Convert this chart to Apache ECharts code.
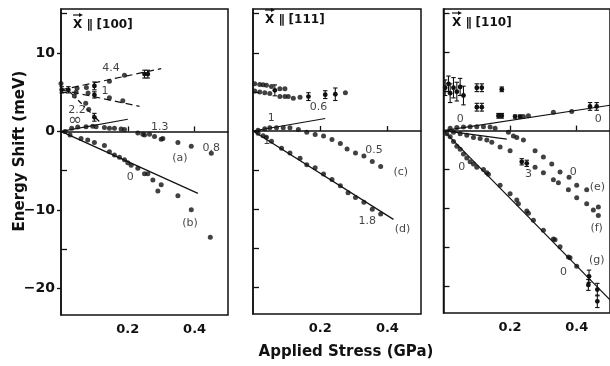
<!DOCTYPE html>
<html>
<head>
<meta charset="utf-8">
<script src="https://cdn.jsdelivr.net/npm/echarts@6/dist/echarts.min.js"></script>
<style>
  html, body { margin: 0; padding: 0; background: #fff; }
  #chart { width: 610px; height: 366px; }
</style>
</head>
<body>
<div id="chart"></div>
<script>
// ---- Stress-induced energy shifts, three stress directions ----
// x: applied stress (GPa), y: energy shift (meV)

const xTicks = [0.2, 0.4];
const yMajorTicks = [10, 0, -10, -20];
const yMinorTicks = [15, 5, -5, -15];
const panelTitles = ['[100]', '[111]', '[110]'];

// X || [100]
const s100Upper44 = [[0.0, 6.1], [0.048, 5.5], [0.076, 5.6], [0.145, 6.4], [0.19, 7.15]];
const s100Upper44Err = [[0.002, 5.3, 0.4], [0.022, 5.3, 0.4], [0.10, 5.8, 0.5], [0.25, 7.3, 0.5], [0.26, 7.3, 0.5]];
const s100Upper1 = [[0.045, 5.0], [0.081, 4.9], [0.145, 4.3], [0.185, 3.9]];
const s100Upper1Err = [[0.10, 4.65, 0.4]];
const s100Upper22 = [[0.04, 4.5], [0.074, 3.6], [0.083, 2.8]];
const s100Upper22Err = [[0.10, 1.8, 0.5]];
const s100A = [[0.012, 0], [0.032, 0.4], [0.05, 0.55], [0.075, 0.6], [0.095, 0.65], [0.105, 0.6], [0.13, 0.5], [0.145, 0.4], [0.16, 0.4], [0.18, 0.3], [0.19, 0.25], [0.23, -0.2], [0.245, -0.35], [0.25, -0.45], [0.265, -0.35], [0.28, -0.65], [0.30, -1.0], [0.305, -0.9], [0.35, -1.4], [0.39, -1.9], [0.45, -2.8]];
const s100B = [[0.027, -0.45], [0.06, -0.9], [0.08, -1.1], [0.10, -1.4], [0.13, -1.8], [0.145, -2.6], [0.16, -3.0], [0.175, -3.3], [0.19, -3.6], [0.20, -4.0], [0.21, -4.3], [0.23, -4.7], [0.25, -5.4], [0.26, -5.4], [0.275, -6.2], [0.29, -7.6], [0.30, -6.8], [0.35, -8.2], [0.39, -10.0], [0.447, -13.5]];
const l100_44 = [[0, 5.3], [0.30, 8.0]];
const l100_1 = [[0, 5.3], [0.235, 3.2]];
const l100_22 = [[0.025, 5.1], [0.115, 1.25]];
const l100_inf = [[0, 0], [0.20, 1.55]];
const l100_b = [[0, 0], [0.41, -7.9]];
const t100 = [[0.15, 8.1, '4.4'], [0.132, 5.1, '1'], [0.048, 2.7, '2.2'], [0.296, 0.55, '1.3'], [0.45, -2.1, '0.8'], [0.356, -3.4, '(a)'], [0.207, -5.8, '0'], [0.386, -11.7, '(b)']];
const t100Big = [[0.042, 1.4, '∞']];

// X || [111]
const s111UpperA = [[0.005, 6.05], [0.02, 5.95], [0.03, 5.9], [0.04, 5.85], [0.055, 5.7], [0.08, 5.4], [0.095, 5.4]];
const s111UpperB = [[0.005, 5.1], [0.02, 5.0], [0.035, 4.9], [0.05, 4.8], [0.08, 4.4], [0.095, 4.4], [0.105, 4.4], [0.12, 4.2], [0.14, 4.3], [0.275, 4.9]];
const s111UpperErr = [[0.065, 5.2, 0.7], [0.165, 4.4, 0.5], [0.215, 4.65, 0.5], [0.245, 4.7, 0.8]];
const s111C = [[0.015, 0.1], [0.035, 0.3], [0.05, 0.4], [0.07, 0.4], [0.09, 0.4], [0.11, 0.4], [0.135, 0.2], [0.16, -0.15], [0.185, -0.45], [0.21, -0.65], [0.235, -1.1], [0.26, -1.6], [0.28, -2.3], [0.305, -2.8], [0.33, -3.2], [0.355, -3.9], [0.38, -4.55]];
const s111D = [[0.015, -0.3], [0.03, -0.6], [0.04, -0.8], [0.055, -1.3], [0.085, -2.2], [0.11, -2.8], [0.14, -3.5], [0.16, -4.3], [0.185, -4.7], [0.21, -5.5], [0.235, -6.2], [0.26, -7.0], [0.283, -7.9], [0.305, -8.5], [0.33, -9.1], [0.355, -10.0], [0.38, -10.6]];
const l111_c = [[0, 0], [0.215, 1.6]];
const l111_d = [[0, 0], [0.418, -11.3]];
const t111 = [[0.195, 3.0, '0.6'], [0.054, 1.6, '1'], [0.041, -1.3, '1'], [0.36, -2.4, '0.5'], [0.44, -5.2, '(c)'], [0.34, -11.5, '1.8'], [0.445, -12.6, '(d)']];

// X || [110]
const s110UpperErr = [[0.005, 5.5, 1.0], [0.015, 6.0, 1.0], [0.02, 4.8, 1.2], [0.03, 5.5, 1.3], [0.04, 5.0, 1.2], [0.05, 5.6, 1.1], [0.06, 4.5, 1.2], [0.10, 5.5, 0.5], [0.115, 5.5, 0.5], [0.175, 5.3, 0.3], [0.10, 3.0, 0.5], [0.115, 3.0, 0.5], [0.165, 1.9, 0.3], [0.175, 1.9, 0.3], [0.215, 1.8, 0.2], [0.23, 1.8, 0.2], [0.44, 3.1, 0.5], [0.46, 3.1, 0.5]];
const s110Upper = [[0.24, 1.8], [0.255, 1.9], [0.33, 2.35], [0.385, 2.45]];
const s110E = [[0.02, 0.3], [0.04, 0.4], [0.06, 0.45], [0.08, 0.5], [0.10, 0.5], [0.12, 0.5], [0.14, 0.45], [0.155, 0.3], [0.195, -0.2], [0.21, -0.7], [0.22, -0.9], [0.24, -1.2], [0.275, -2.6], [0.30, -3.4], [0.325, -4.3], [0.35, -5.3], [0.377, -6.0], [0.40, -7.0], [0.43, -7.6]];
const s110F = [[0.03, -0.2], [0.05, -0.4], [0.07, -0.6], [0.09, -0.9], [0.11, -1.0], [0.13, -1.2], [0.145, -1.5], [0.17, -2.1], [0.20, -2.6], [0.275, -4.7], [0.30, -5.4], [0.33, -6.3], [0.345, -6.7], [0.375, -7.6], [0.40, -8.6], [0.43, -9.4], [0.45, -10.2], [0.465, -9.8], [0.465, -10.9]];
const s110FErr = [[0.235, -4.0, 0.4], [0.25, -4.2, 0.4]];
const s110G = [[0.01, -0.4], [0.02, -0.8], [0.03, -1.4], [0.04, -2.0], [0.05, -2.4], [0.06, -3.0], [0.07, -3.5], [0.08, -4.0], [0.09, -4.3], [0.10, -4.7], [0.12, -5.0], [0.13, -5.4], [0.135, -5.6], [0.17, -7.0], [0.20, -8.1], [0.22, -8.9], [0.225, -9.4], [0.25, -10.3], [0.255, -10.6], [0.27, -11.5], [0.30, -12.8], [0.33, -13.9], [0.335, -14.0], [0.35, -14.9], [0.375, -16.2], [0.38, -16.3], [0.40, -17.4]];
const s110GErr = [[0.437, -18.7, 0.8], [0.435, -19.8, 0.7], [0.462, -20.4, 0.8], [0.462, -21.9, 0.8]];
const l110_up = [[0, 0], [0.5, 3.25]];
const l110_short = [[0, 0], [0.19, -1.1]];
const l110_g = [[0, 0], [0.5, -21.7]];
const t110 = [[0.05, 1.45, '0'], [0.465, 1.45, '0'], [0.055, -4.65, '0'], [0.255, -5.55, '3'], [0.39, -5.3, '0'], [0.462, -7.3, '(e)'], [0.46, -12.5, '(f)'], [0.46, -16.6, '(g)'], [0.36, -18.1, '0']];

const INK = '#111';
const FONT = 'DejaVu Sans';

const grids = [
  { left: 61, top: 9, width: 167, height: 306 },
  { left: 253, top: 9, width: 168, height: 305 },
  { left: 443.5, top: 9, width: 167, height: 304 }
];

const fmtY = v => (v < 0 ? '\u2212' + Math.abs(v) : String(v));

const xAxes = grids.map((g, i) => ({
  gridIndex: i, type: 'value', min: 0, max: 0.5,
  axisLine: { show: true, lineStyle: { color: INK, width: 1.5 } },
  axisTick: { show: true, inside: true, length: 5, customValues: xTicks, lineStyle: { color: INK, width: 1.3 } },
  axisLabel: { show: true, customValues: xTicks, color: INK, fontFamily: FONT, fontWeight: 'bold', fontSize: 13, margin: 8, formatter: v => v.toFixed(1) },
  splitLine: { show: false }
}));

const yAxes = [];
grids.forEach((g, i) => {
  yAxes.push({
    gridIndex: i, type: 'value', min: -23.4, max: 15.6,
    axisLine: { show: true, lineStyle: { color: INK, width: 1.5 } },
    axisTick: { show: true, inside: i > 0, length: i === 0 ? 4 : 6, customValues: yMajorTicks, lineStyle: { color: INK, width: 1.3 } },
    axisLabel: { show: i === 0, customValues: yMajorTicks, color: INK, fontFamily: FONT, fontWeight: 'bold', fontSize: 14, margin: 6, formatter: fmtY },
    splitLine: { show: false }
  });
  yAxes.push({
    gridIndex: i, type: 'value', min: -23.4, max: 15.6, position: 'left',
    axisLine: { show: false },
    axisTick: { show: true, inside: true, length: 6, customValues: yMinorTicks, lineStyle: { color: INK, width: 1.3 } },
    axisLabel: { show: false },
    splitLine: { show: false }
  });
});

function dots(gi, data, size) {
  return { type: 'scatter', xAxisIndex: gi, yAxisIndex: gi * 2, data: data, symbol: 'circle', symbolSize: size || 5, itemStyle: { color: INK }, silent: true, z: 4 };
}
function fitLine(gi, data, type) {
  let dash = 'solid';
  if (type === 'dash') dash = [7, 4];
  if (type === 'dashdot') dash = [5, 3, 1.5, 3];
  return { type: 'line', xAxisIndex: gi, yAxisIndex: gi * 2, data: data, symbol: 'none', lineStyle: { color: INK, width: 1.2, type: dash }, silent: true, z: 3 };
}
function errBars(gi, data) {
  return {
    type: 'custom', xAxisIndex: gi, yAxisIndex: gi * 2, data: data, silent: true, z: 5,
    renderItem: function (params, api) {
      const x = api.value(0), y = api.value(1), e = api.value(2);
      const c = api.coord([x, y]);
      const t = api.coord([x, y + e]);
      const b = api.coord([x, y - e]);
      const w = 2.2;
      const st = { stroke: INK, lineWidth: 1.1 };
      return {
        type: 'group',
        children: [
          { type: 'line', shape: { x1: t[0], y1: t[1], x2: b[0], y2: b[1] }, style: st },
          { type: 'line', shape: { x1: t[0] - w, y1: t[1], x2: t[0] + w, y2: t[1] }, style: st },
          { type: 'line', shape: { x1: b[0] - w, y1: b[1], x2: b[0] + w, y2: b[1] }, style: st },
          { type: 'circle', shape: { cx: c[0], cy: c[1], r: 2.4 }, style: { fill: INK } }
        ]
      };
    }
  };
}
function notes(gi, data, size) {
  return {
    type: 'scatter', xAxisIndex: gi, yAxisIndex: gi * 2, data: data, symbolSize: 0, silent: true, z: 6,
    label: { show: true, position: 'inside', formatter: p => p.data[2], color: INK, fontFamily: FONT, fontSize: size || 11 }
  };
}

const series = [
  // [100]
  fitLine(0, l100_44, 'dash'), fitLine(0, l100_1, 'dash'), fitLine(0, l100_22, 'dashdot'),
  fitLine(0, l100_inf), fitLine(0, l100_b),
  dots(0, s100Upper44), errBars(0, s100Upper44Err),
  dots(0, s100Upper1), errBars(0, s100Upper1Err),
  dots(0, s100Upper22), errBars(0, s100Upper22Err),
  dots(0, s100A), dots(0, s100B), notes(0, t100), notes(0, t100Big, 17),
  // [111]
  fitLine(1, l111_c), fitLine(1, l111_d),
  dots(1, s111UpperA), dots(1, s111UpperB), errBars(1, s111UpperErr),
  dots(1, s111C), dots(1, s111D), notes(1, t111),
  // [110]
  fitLine(2, l110_up), fitLine(2, l110_short), fitLine(2, l110_g),
  errBars(2, s110UpperErr), dots(2, s110Upper),
  dots(2, s110E), dots(2, s110F), errBars(2, s110FErr),
  dots(2, s110G), errBars(2, s110GErr), notes(2, t110)
];

// panel headings: X with an arrow over it, parallel sign, direction
const headX = [73, 265, 452];
const headY = [26, 21, 24];
const graphic = [];
panelTitles.forEach((t, i) => {
  graphic.push({
    type: 'text', left: headX[i], top: headY[i] - 7, silent: true,
    style: { text: 'X \u2225 ' + t, fill: INK, font: 'bold 12px "DejaVu Sans"' }
  });
  graphic.push({
    type: 'line', silent: true,
    shape: { x1: headX[i], y1: headY[i] - 11, x2: headX[i] + 8, y2: headY[i] - 11 },
    style: { stroke: INK, lineWidth: 1.2 }
  });
  graphic.push({
    type: 'polygon', silent: true,
    shape: { points: [[headX[i] + 10, headY[i] - 11], [headX[i] + 6, headY[i] - 13], [headX[i] + 6, headY[i] - 9]] },
    style: { fill: INK }
  });
});
graphic.push({
  type: 'text', silent: true, x: 20, y: 151, rotation: Math.PI / 2,
  style: { text: 'Energy Shift (meV)', fill: INK, font: 'bold 15px "DejaVu Sans"', align: 'center', verticalAlign: 'middle' }
});
graphic.push({
  type: 'text', silent: true, x: 346, y: 352,
  style: { text: 'Applied Stress (GPa)', fill: INK, font: 'bold 15px "DejaVu Sans"', align: 'center', verticalAlign: 'middle' }
});

const chart = echarts.init(document.getElementById('chart'), null, { renderer: 'canvas' });
chart.setOption({
  animation: false,
  backgroundColor: '#fff',
  grid: grids.map(g => Object.assign({ show: true, borderColor: INK, borderWidth: 1.5, backgroundColor: 'transparent' }, g)),
  xAxis: xAxes,
  yAxis: yAxes,
  series: series,
  graphic: graphic
});
</script>
</body>
</html>
